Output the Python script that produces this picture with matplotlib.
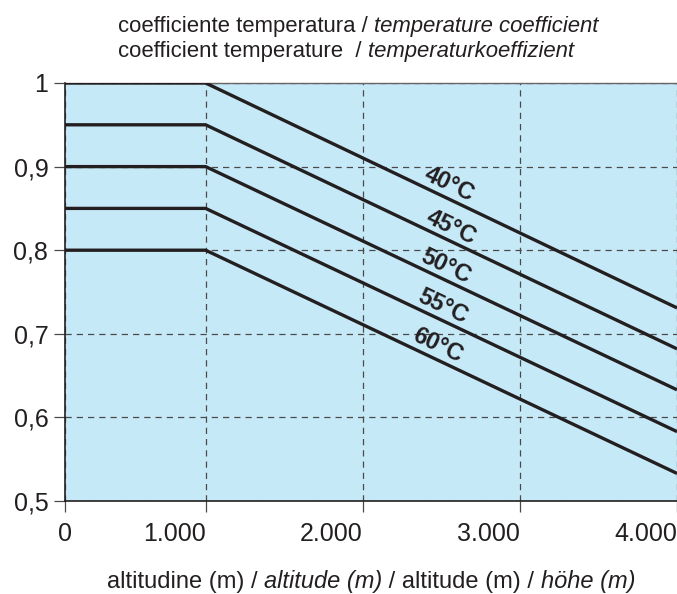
import numpy as np
import matplotlib
matplotlib.use("Agg")
import matplotlib.pyplot as plt

plt.rcParams["font.family"] = ["Liberation Sans", "DejaVu Sans"]

# ── Data ──────────────────────────────────────────────────────────────────────
altitude = [0, 1000, 4000]                 # m
coef_40 = [1.00, 1.00, 0.731]
coef_45 = [0.95, 0.95, 0.682]
coef_50 = [0.90, 0.90, 0.633]
coef_55 = [0.85, 0.85, 0.583]
coef_60 = [0.80, 0.80, 0.533]
curves = [coef_40, coef_45, coef_50, coef_55, coef_60]
temp_labels = ["40°C", "45°C", "50°C", "55°C", "60°C"]

x_ticks = [105, 1000, 2000, 3000, 4000]
x_ticklabels = ["0", "1.000", "2.000", "3.000", "4.000"]
y_ticks = [0.5, 0.6, 0.7, 0.8, 0.9, 1.0]
y_ticklabels = ["0,5", "0,6", "0,7", "0,8", "0,9", "1"]

# ── Style ─────────────────────────────────────────────────────────────────────
BG = "#C6E9F8"
INK = "#231F20"
GRID = "#4A4A4A"
label_x = [2549, 2560, 2528, 2507, 2475]   # where the °C labels sit
label_dy = 0.017
W, H = 677, 594

fig = plt.figure(figsize=(W / 100, H / 100), dpi=100)
ax = fig.add_axes([65 / W, 1 - 501 / H, 612 / W, 418 / H])
ax.set_facecolor(BG)

for vals in curves:
    ax.plot(altitude, vals, color=INK, lw=2.4, solid_capstyle="butt", zorder=3)

ax.set_xlim(105, 4000)
ax.set_ylim(0.5, 1.0)

ax.set_xticks(x_ticks)
ax.set_xticklabels(x_ticklabels, fontsize=18, color=INK)
for i, lbl in enumerate(ax.get_xticklabels()):
    lbl.set_ha("center" if i == 0 else "right")
ax.set_yticks(y_ticks)
ax.set_yticklabels(y_ticklabels, fontsize=18, color=INK)
ax.tick_params(axis="both", length=8, width=0.9, color=GRID, pad=4)
ax.tick_params(axis="x", pad=7)

ax.grid(True, ls=(0, (5, 4)), color=GRID, lw=0.9)
ax.set_axisbelow(True)

for side in ["left", "bottom"]:
    ax.spines[side].set_color(INK)
    ax.spines[side].set_linewidth(1.2)
ax.spines["top"].set_color("#666666")
ax.spines["top"].set_linewidth(1.0)
ax.spines["right"].set_visible(False)

# ── Labels along the lines ────────────────────────────────────────────────────
p0 = ax.transData.transform((1000, coef_40[1]))
p1 = ax.transData.transform((4000, coef_40[2]))
angle = np.degrees(np.arctan2(p1[1] - p0[1], p1[0] - p0[0]))
for vals, txt, lx in zip(curves, temp_labels, label_x):
    ly = np.interp(lx, altitude, vals) + label_dy
    ax.text(lx, ly, txt, rotation=angle, rotation_mode="anchor",
            ha="center", va="center", fontsize=17, fontweight="bold",
            color=INK, zorder=4)

# ── Titles: upright / italic pieces placed one after another ─────────────────
renderer = fig.canvas.get_renderer()


def write_line(x_px, y_px, parts, size):
    x = x_px
    for text, italic in parts:
        t = fig.text(x / W, 1 - y_px / H, text, fontsize=size,
                     style="italic" if italic else "normal",
                     color=INK, ha="left", va="baseline")
        x += t.get_window_extent(renderer).width
    return x


write_line(118, 32, [("coefficiente temperatura / ", False),
                     ("temperature coefficient", True)], 15.9)
write_line(118, 57, [("coefficient temperature  / ", False),
                     ("temperaturkoeffizient", True)], 15.9)
write_line(107, 588, [("altitudine (m) / ", False), ("altitude (m)", True),
                      (" / altitude (m) / ", False), ("höhe (m)", True)], 17)

fig.savefig("out.png", dpi=100)
